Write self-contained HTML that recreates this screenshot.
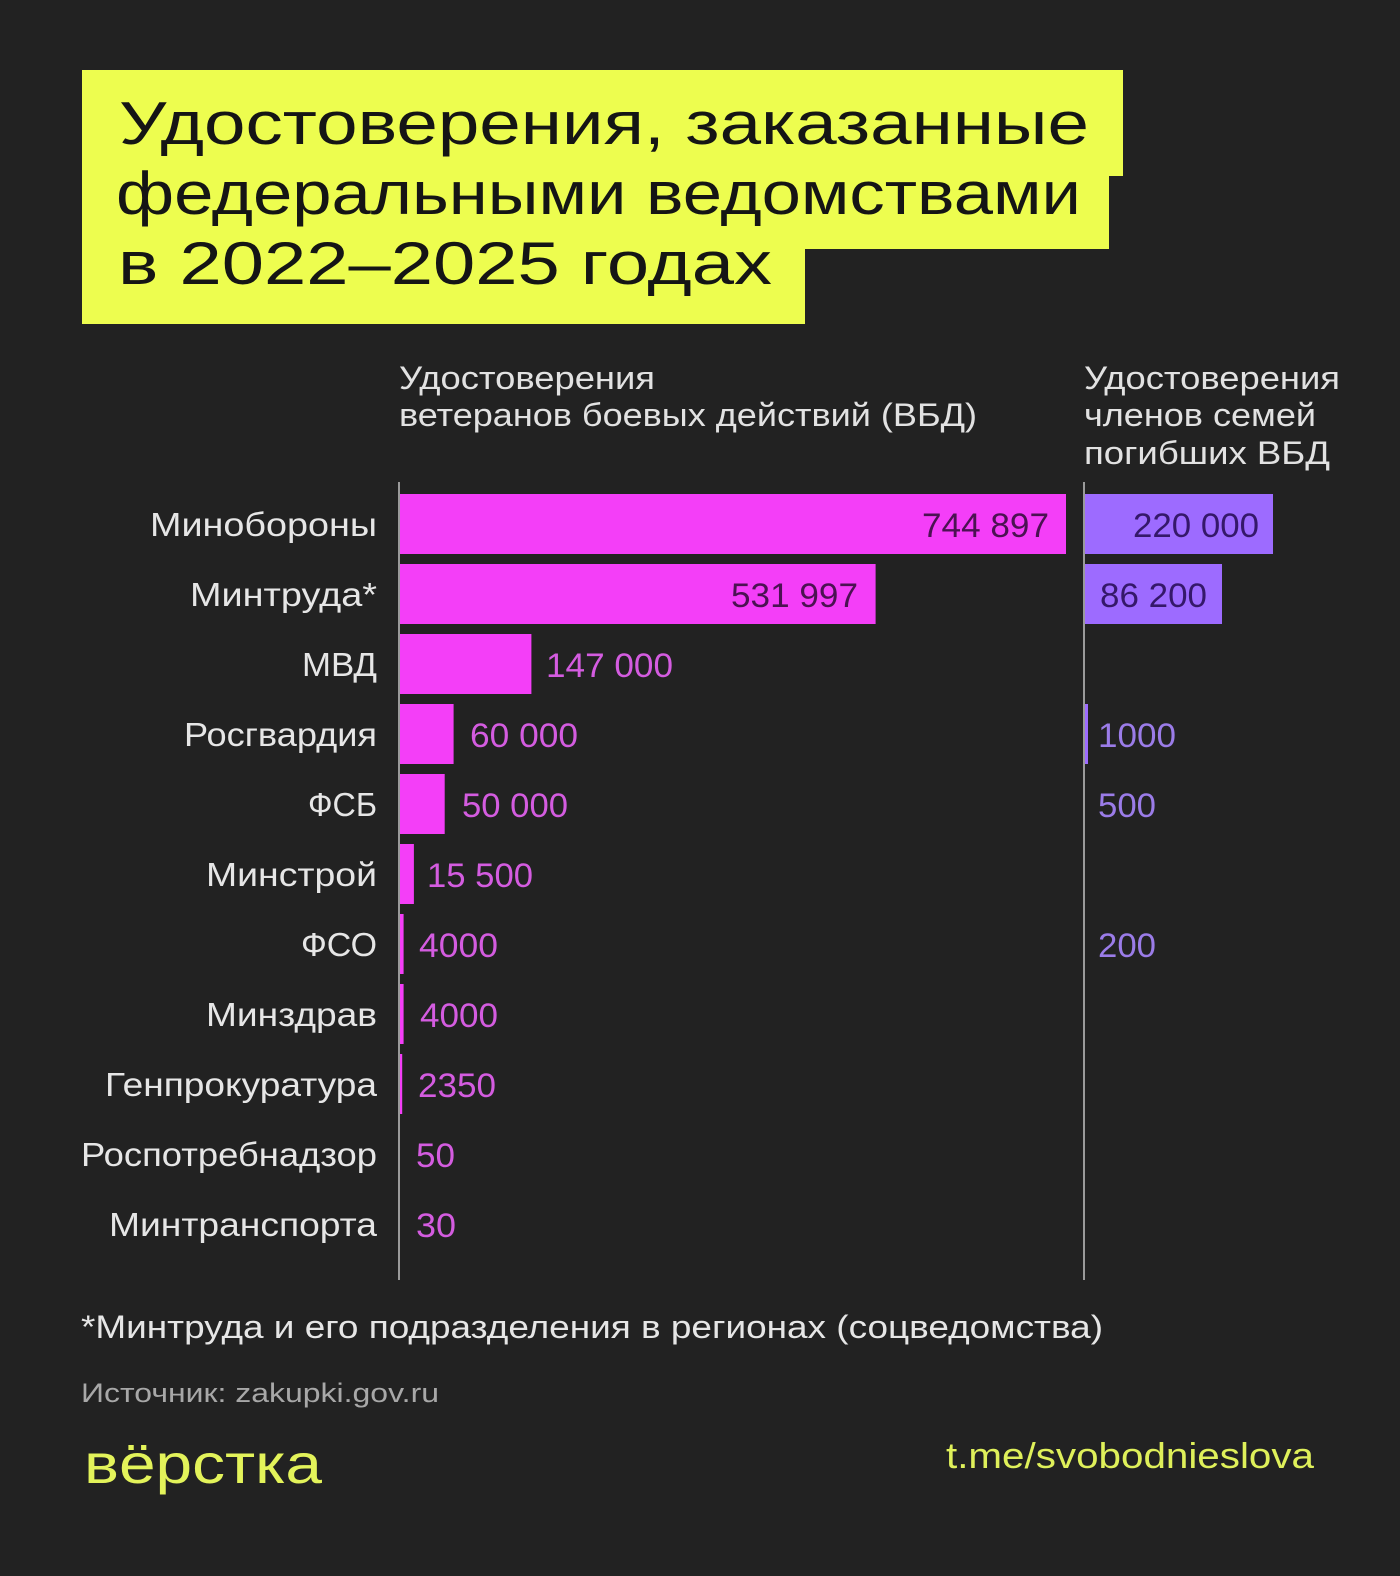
<!DOCTYPE html>
<html>
<head>
<meta charset="utf-8">
<style>
  html, body { margin:0; padding:0; background:#222222; }
  svg { display:block; }
  text { font-family: "Liberation Sans", "Noto Sans CJK SC", sans-serif; }
</style>
</head>
<body>
<svg width="1400" height="1576" viewBox="0 0 1400 1576" xmlns="http://www.w3.org/2000/svg">
  <rect x="0" y="0" width="1400" height="1576" fill="#222222"/>

  <!-- Title block -->
  <polygon points="82,70 1123,70 1123,176 1109,176 1109,249 805,249 805,324 82,324" fill="#edfd4f"/>
  <g fill="#151515" font-size="60">
    <text x="119" y="144" textLength="970" lengthAdjust="spacingAndGlyphs">Удостоверения, заказанные</text>
    <text x="116" y="214" textLength="965" lengthAdjust="spacingAndGlyphs">федеральными ведомствами</text>
    <text x="118" y="284" textLength="654" lengthAdjust="spacingAndGlyphs">в 2022–2025 годах</text>
  </g>

  <!-- Column headers -->
  <g fill="#e2e2e2" font-size="32">
    <text x="399" y="389" textLength="256" lengthAdjust="spacingAndGlyphs">Удостоверения</text>
    <text x="399" y="426" textLength="578" lengthAdjust="spacingAndGlyphs">ветеранов боевых действий (ВБД)</text>
    <text x="1084" y="389" textLength="256" lengthAdjust="spacingAndGlyphs">Удостоверения</text>
    <text x="1084" y="426" textLength="232" lengthAdjust="spacingAndGlyphs">членов семей</text>
    <text x="1084" y="464" textLength="246" lengthAdjust="spacingAndGlyphs">погибших ВБД</text>
  </g>

  <!-- Axis lines -->
  <rect x="398" y="482" width="2" height="798" fill="#9a9a9a"/>
  <rect x="1083" y="482" width="2" height="798" fill="#9a9a9a"/>

  <!-- Left bars -->
  <g fill="#f43ef8">
    <rect x="400" y="494" width="666" height="60"/>
    <rect x="400" y="564" width="475.6" height="60"/>
    <rect x="400" y="634" width="131.4" height="60"/>
    <rect x="400" y="704" width="53.6" height="60"/>
    <rect x="400" y="774" width="44.7" height="60"/>
    <rect x="400" y="844" width="13.9" height="60"/>
    <rect x="400" y="914" width="3.6" height="60"/>
    <rect x="400" y="984" width="3.6" height="60"/>
    <rect x="400" y="1054" width="2.2" height="60"/>
  </g>

  <!-- Right bars -->
  <g fill="#9d6bff">
    <rect x="1085" y="494" width="188" height="60"/>
    <rect x="1085" y="564" width="137" height="60"/>
    <rect x="1085" y="704" width="3" height="60"/>
  </g>

  <!-- Category labels -->
  <g fill="#e6e6e6" font-size="33" text-anchor="end">
    <text x="377" y="536" textLength="227" lengthAdjust="spacingAndGlyphs">Минобороны</text>
    <text x="377" y="606" textLength="187" lengthAdjust="spacingAndGlyphs">Минтруда*</text>
    <text x="377" y="676" textLength="75" lengthAdjust="spacingAndGlyphs">МВД</text>
    <text x="377" y="746" textLength="193" lengthAdjust="spacingAndGlyphs">Росгвардия</text>
    <text x="377" y="816" textLength="69" lengthAdjust="spacingAndGlyphs">ФСБ</text>
    <text x="377" y="886" textLength="171" lengthAdjust="spacingAndGlyphs">Минстрой</text>
    <text x="377" y="956" textLength="76" lengthAdjust="spacingAndGlyphs">ФСО</text>
    <text x="377" y="1026" textLength="171" lengthAdjust="spacingAndGlyphs">Минздрав</text>
    <text x="377" y="1096" textLength="272" lengthAdjust="spacingAndGlyphs">Генпрокуратура</text>
    <text x="377" y="1166" textLength="296" lengthAdjust="spacingAndGlyphs">Роспотребнадзор</text>
    <text x="377" y="1236" textLength="268" lengthAdjust="spacingAndGlyphs">Минтранспорта</text>
  </g>

  <!-- Left value labels -->
  <g font-size="34">
    <text x="1049" y="537" text-anchor="end" fill="#4b1252" textLength="127" lengthAdjust="spacingAndGlyphs">744 897</text>
    <text x="858" y="607" text-anchor="end" fill="#4b1252" textLength="127" lengthAdjust="spacingAndGlyphs">531 997</text>
  </g>
  <g font-size="34" fill="#d45ce0">
    <text x="546" y="677" textLength="127" lengthAdjust="spacingAndGlyphs">147 000</text>
    <text x="470" y="747" textLength="108" lengthAdjust="spacingAndGlyphs">60 000</text>
    <text x="462" y="817" textLength="106" lengthAdjust="spacingAndGlyphs">50 000</text>
    <text x="427" y="887" textLength="106" lengthAdjust="spacingAndGlyphs">15 500</text>
    <text x="419" y="957" textLength="79" lengthAdjust="spacingAndGlyphs">4000</text>
    <text x="420" y="1027" textLength="78" lengthAdjust="spacingAndGlyphs">4000</text>
    <text x="418" y="1097" textLength="78" lengthAdjust="spacingAndGlyphs">2350</text>
    <text x="416" y="1167" textLength="39" lengthAdjust="spacingAndGlyphs">50</text>
    <text x="416" y="1237" textLength="40" lengthAdjust="spacingAndGlyphs">30</text>
  </g>

  <!-- Right value labels -->
  <g font-size="34">
    <text x="1259" y="537" text-anchor="end" fill="#35186a" textLength="126" lengthAdjust="spacingAndGlyphs">220 000</text>
    <text x="1207" y="607" text-anchor="end" fill="#35186a" textLength="107" lengthAdjust="spacingAndGlyphs">86 200</text>
  </g>
  <g font-size="34" fill="#9b7ce8">
    <text x="1098" y="747" textLength="78" lengthAdjust="spacingAndGlyphs">1000</text>
    <text x="1098" y="817" textLength="58" lengthAdjust="spacingAndGlyphs">500</text>
    <text x="1098" y="957" textLength="58" lengthAdjust="spacingAndGlyphs">200</text>
  </g>

  <!-- Footer -->
  <text x="81" y="1338" font-size="32" fill="#e6e6e6" textLength="1022" lengthAdjust="spacingAndGlyphs">*Минтруда и его подразделения в регионах (соцведомства)</text>
  <text x="81" y="1402" font-size="27" fill="#a8a8a8" textLength="358" lengthAdjust="spacingAndGlyphs">Источник: zakupki.gov.ru</text>
  <text x="84" y="1483" font-size="56" fill="#e3f35a" textLength="238" lengthAdjust="spacingAndGlyphs">вёрстка</text>
  <text x="946" y="1468" font-size="36" fill="#dff05a" textLength="368" lengthAdjust="spacingAndGlyphs">t.me/svobodnieslova</text>
</svg>
</body>
</html>
